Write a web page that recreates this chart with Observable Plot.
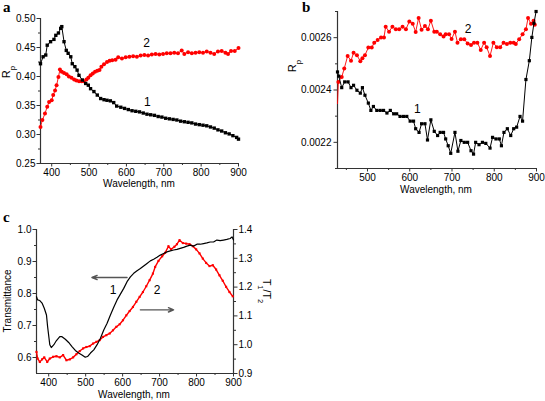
<!DOCTYPE html>
<html><head><meta charset="utf-8">
<script src="https://cdn.jsdelivr.net/npm/d3@7"></script>
<script src="https://cdn.jsdelivr.net/npm/@observablehq/plot@0.6"></script>
<style>
html,body{margin:0;padding:0;background:#fff;}
#fig{position:relative;width:545px;height:401px;background:#fff;overflow:hidden;}
#fig svg{position:absolute;}
</style></head>
<body><div id="fig"></div>
<script>
// ---------- Panel a: R_p vs wavelength ----------
const aWl1 = [370,377,384,388,397,406,411,418,424,427,433,439,444,451,455,462,468,473,482,491,498,504,513,522,531,540,548,557,566,574,585,595,605,615,625,635,645,655,665,675,685,695,705,715,725,735,745,755,765,775,785,795,805,815,825,835,845,855,865,875,885,895,900];
const aRp1 = [0.422,0.434,0.437,0.454,0.460,0.464,0.471,0.475,0.483,0.486,0.460,0.445,0.440,0.434,0.422,0.417,0.411,0.402,0.394,0.388,0.385,0.379,0.374,0.368,0.362,0.360,0.359,0.358,0.355,0.349,0.347,0.345,0.343,0.341,0.340,0.339,0.337,0.335,0.334,0.333,0.331,0.330,0.328,0.327,0.326,0.325,0.323,0.322,0.321,0.320,0.318,0.317,0.316,0.315,0.313,0.311,0.308,0.306,0.303,0.301,0.298,0.295,0.292];
const aWl2 = [370,375,382,388,393,400,404,409,413,418,422,427,433,440,446,453,460,466,473,480,486,493,498,504,510,516,522,528,533,540,548,555,562,571,578,588,598,608,618,628,638,648,658,668,678,688,698,708,718,728,738,748,755,765,775,785,795,805,815,825,835,845,855,865,872,880,890,900];
const aRp2 = [0.313,0.325,0.336,0.348,0.356,0.359,0.368,0.376,0.385,0.399,0.412,0.408,0.406,0.404,0.400,0.398,0.395,0.393,0.392,0.392,0.392,0.395,0.398,0.402,0.405,0.408,0.410,0.411,0.417,0.421,0.425,0.427,0.428,0.429,0.433,0.431,0.433,0.434,0.435,0.434,0.436,0.437,0.436,0.438,0.439,0.438,0.439,0.440,0.440,0.441,0.440,0.445,0.439,0.442,0.440,0.441,0.442,0.441,0.443,0.441,0.439,0.443,0.444,0.441,0.439,0.444,0.444,0.449];
const aXTicks = [400,500,600,700,800,900];
const aXMinor = [450,550,650,750,850];
const aYTicks = [0.25,0.30,0.35,0.40,0.45,0.50];
const aYMinor = [0.275,0.325,0.375,0.425,0.475];
const aLabelText = ["1","2"];
const aLabelX = [656,654];
const aLabelY = [0.356,0.458];

// ---------- Panel b: R_p (small) vs wavelength ----------
const bWl1 = [429,432,439,446,454,461,467,475,483,488,494,502,508,514,522,530,538,546,554,562,569,577,585,593,601,609,614,622,628,636,642,650,658,666,672,680,685,691,697,707,714,721,729,737,745,751,756,764,772,780,790,796,804,812,817,823,831,839,846,853,861,867,875,883,889,894,899];
const bRp1 = [0.002469,0.002453,0.002409,0.002431,0.002431,0.002409,0.002418,0.002399,0.002388,0.002409,0.00238,0.00235,0.002322,0.002337,0.002322,0.002322,0.002322,0.002312,0.002322,0.002309,0.002309,0.002299,0.002299,0.002299,0.002281,0.002281,0.002252,0.002238,0.002271,0.002271,0.002209,0.002286,0.002242,0.002226,0.002238,0.002238,0.002213,0.002187,0.002158,0.002238,0.002166,0.002207,0.0022,0.0022,0.002168,0.002155,0.0022,0.002191,0.0022,0.002196,0.002178,0.002219,0.002213,0.002213,0.002187,0.002238,0.002252,0.002226,0.002252,0.002258,0.002299,0.002281,0.00244,0.002512,0.002601,0.002655,0.0027];
const bWl2 = [429,431,439,445,453,461,467,475,483,488,494,502,510,516,524,532,539,543,551,559,567,575,583,591,599,607,614,621,628,636,643,650,658,664,672,680,685,693,699,707,713,721,729,737,745,752,760,768,776,782,790,798,806,814,822,830,838,846,851,859,867,875,880,887,893,896];
const bRp2 = [0.002348,0.002431,0.00245,0.002482,0.00253,0.002512,0.002542,0.002533,0.00251,0.002521,0.002533,0.002562,0.002562,0.002581,0.002591,0.002601,0.002601,0.002642,0.002623,0.002642,0.002632,0.002632,0.002642,0.002632,0.002662,0.002653,0.002622,0.002675,0.00263,0.002645,0.002632,0.002665,0.002623,0.002623,0.002613,0.002604,0.002613,0.002613,0.002595,0.002623,0.002581,0.002594,0.002594,0.002578,0.002572,0.002581,0.002581,0.002553,0.002581,0.002563,0.00253,0.002581,0.002563,0.002563,0.002581,0.002576,0.002581,0.002581,0.002576,0.002594,0.002613,0.002632,0.002675,0.002653,0.002665,0.002649];
const bXTicks = [500,600,700,800,900];
const bXMinor = [450,550,650,750,850];
const bYTicks = [0.0022,0.0024,0.0026];
const bYMinor = [0.0021,0.0023,0.0025,0.0027];
const bLabelText = ["1","2"];
const bLabelX = [618,738];
const bLabelY = [0.002325,0.002632];

// ---------- Panel c: Transmittance (left) and T1/T2 (right) ----------
const cWl1 = [367,370,376,382,388,394,397,403,407,414,421,430,436,445,454,463,472,481,490,499,505,513,522,531,540,549,558,567,576,585,594,603,612,621,630,639,648,657,666,675,684,693,702,711,720,729,738,747,756,765,774,783,792,801,810,819,828,837,846,855,864,873,882,891,896,900];
const cTrans = [0.790,0.780,0.778,0.770,0.754,0.733,0.697,0.640,0.631,0.640,0.653,0.665,0.665,0.657,0.647,0.634,0.622,0.614,0.608,0.601,0.603,0.614,0.624,0.640,0.660,0.686,0.707,0.733,0.757,0.780,0.798,0.816,0.837,0.852,0.863,0.871,0.878,0.886,0.894,0.902,0.907,0.913,0.920,0.925,0.930,0.933,0.936,0.938,0.941,0.944,0.948,0.951,0.948,0.954,0.954,0.956,0.958,0.961,0.961,0.967,0.965,0.967,0.969,0.972,0.977,0.967];
const cWl2 = [367,370,376,382,388,396,403,412,421,430,439,448,457,466,475,484,493,502,511,520,529,538,547,556,565,574,583,592,601,610,619,628,637,646,655,664,673,682,688,697,707,715,724,731,740,747,754,763,772,781,790,799,808,817,826,835,844,853,862,871,880,889,898];
const cRatio = [0.975,0.952,0.940,0.949,0.956,0.940,0.952,0.958,0.960,0.956,0.964,0.946,0.949,0.956,0.967,0.978,0.987,0.992,0.995,1.004,1.010,1.016,1.027,1.033,1.039,1.050,1.062,1.071,1.085,1.102,1.117,1.131,1.149,1.166,1.183,1.203,1.224,1.247,1.270,1.291,1.307,1.319,1.342,1.331,1.340,1.349,1.363,1.353,1.351,1.349,1.342,1.331,1.317,1.299,1.284,1.273,1.276,1.261,1.241,1.222,1.201,1.183,1.168];
const cXTicks = [400,500,600,700,800,900];
const cXMinor = [450,550,650,750,850];
const cLeftTicks = [0.6,0.7,0.8,0.9,1.0];
const cLeftMinor = [0.65,0.75,0.85,0.95];
const cRightTicks = [0.9,1.0,1.1,1.2,1.3,1.4];
const cRightMinor = [0.95,1.05,1.15,1.25,1.35];
const cLeftDomain = [0.55,1.0];
const cRightDomain = [0.9,1.4];
const cLabelText = ["1","2"];
const cLabelX = [574,693];
const cLabelY = [0.809,0.809];
const cArrowFrom = [612,648];
const cArrowTo = [517,738];
const cArrowLevel = [0.850,1.121];
const cArrowAxis = ["left","right"];

// ---------- helpers ----------
const FONT = '"Liberation Sans", Arial, Helvetica, sans-serif';
const SERIF = '"Liberation Serif", "Times New Roman", serif';
const fig = document.getElementById("fig");
const zip = (xs, ys) => xs.map((x, i) => ({x, y: ys[i]}));
const labels = (t, xs, ys) => t.map((s, i) => ({t: s, x: xs[i], y: ys[i]}));
const style = {fontFamily: FONT, fontSize: "10px", color: "#000", background: "none", overflow: "visible"};
const AX = "#333";

function minorX(ticks) { return Plot.axisX({ticks, tickSize: 2, fill: "none", tickFormat: () => "", label: null, stroke: AX}); }
function minorY(ticks, anchor = "left") { return Plot.axisY({anchor, ticks, tickSize: 2, fill: "none", tickFormat: () => "", label: null, stroke: AX}); }

function place(svg, left, top) { svg.style.left = left + "px"; svg.style.top = top + "px"; fig.appendChild(svg); return d3.select(svg); }

function addText(sel, {x, y, rotate = 0, anchor = "middle", size = 10, family = FONT, weight = "normal", parts}) {
  const t = sel.append("text")
    .attr("transform", `translate(${x},${y}) rotate(${rotate})`)
    .attr("text-anchor", anchor)
    .attr("font-family", family)
    .attr("font-size", size)
    .attr("font-weight", weight)
    .attr("fill", "#000");
  for (const p of parts) {
    if (typeof p === "string") t.append("tspan").text(p);
    else t.append("tspan").attr("font-size", size * 0.72).attr("baseline-shift", "sub").text(p.sub);
  }
  return t;
}

// ---------- Panel a ----------
const plotA = Plot.plot({
  width: 270, height: 200,
  marginLeft: 40, marginRight: 32, marginTop: 18, marginBottom: 37,
  x: {type: "linear", domain: [370, 900]},
  y: {type: "linear", domain: [0.25, 0.50]},
  style,
  marks: [
    Plot.axisX({ticks: aXTicks, tickSize: 3.5, tickPadding: 1.5, tickFormat: d3.format("d"), label: null, stroke: AX}),
    minorX(aXMinor),
    Plot.axisY({ticks: aYTicks, tickSize: 3.5, tickPadding: 1.5, tickFormat: d3.format(".2f"), label: null, stroke: AX}),
    minorY(aYMinor),
    Plot.ruleX([370], {stroke: AX, strokeWidth: 1.2}),
    Plot.ruleY([0.25], {stroke: AX, strokeWidth: 1.2}),
    Plot.line(zip(aWl2, aRp2), {x: "x", y: "y", stroke: "#f00", strokeWidth: 0.9}),
    Plot.dot(zip(aWl2, aRp2), {x: "x", y: "y", r: 2, fill: "#f00", stroke: "none"}),
    Plot.line(zip(aWl1, aRp1), {x: "x", y: "y", stroke: "#000", strokeWidth: 1}),
    Plot.dot(zip(aWl1, aRp1), {x: "x", y: "y", r: 1.9, symbol: "square", fill: "#000", stroke: "none"}),
    Plot.text(labels(aLabelText, aLabelX, aLabelY), {x: "x", y: "y", text: "t", fontSize: 12, fill: "#000"})
  ]
});
const sa = place(plotA, 0, 0);
addText(sa, {x: 3, y: 12, anchor: "start", size: 15, family: SERIF, weight: "bold", parts: ["a"]});
addText(sa, {x: 10, y: 72, rotate: -90, size: 11, parts: ["R", {sub: "p"}]});
addText(sa, {x: 139, y: 187, size: 10, parts: ["Wavelength, nm"]});

// ---------- Panel b ----------
const plotB = Plot.plot({
  width: 275, height: 200,
  marginLeft: 67, marginRight: 9, marginTop: 11, marginBottom: 32,
  x: {type: "linear", domain: [429, 900]},
  y: {type: "linear", domain: [0.0021, 0.0027]},
  style,
  marks: [
    Plot.axisX({ticks: bXTicks, tickSize: 3.5, tickPadding: 1.5, tickFormat: d3.format("d"), label: null, stroke: AX}),
    minorX(bXMinor),
    Plot.axisY({ticks: bYTicks, tickSize: 3.5, tickPadding: 2.5, tickFormat: d3.format(".4f"), label: null, stroke: AX}),
    minorY(bYMinor),
    Plot.ruleX([429], {stroke: AX, strokeWidth: 1.2}),
    Plot.ruleY([0.0021], {stroke: AX, strokeWidth: 1.2}),
    Plot.line(zip(bWl2, bRp2), {x: "x", y: "y", stroke: "#f00", strokeWidth: 0.9}),
    Plot.dot(zip(bWl2, bRp2).slice(1), {x: "x", y: "y", r: 2, fill: "#f00", stroke: "none"}),
    Plot.line(zip(bWl1, bRp1), {x: "x", y: "y", stroke: "#000", strokeWidth: 1}),
    Plot.dot(zip(bWl1, bRp1), {x: "x", y: "y", r: 1.8, symbol: "square", fill: "#000", stroke: "none"}),
    Plot.text(labels(bLabelText, bLabelX, bLabelY), {x: "x", y: "y", text: "t", fontSize: 12, fill: "#000"})
  ]
});
const sb = place(plotB, 270, 0);
addText(sb, {x: 32, y: 12, anchor: "start", size: 15, family: SERIF, weight: "bold", parts: ["b"]});
addText(sb, {x: 26, y: 66, rotate: -90, size: 11, parts: ["R", {sub: "p"}]});
addText(sb, {x: 166, y: 193, size: 10, parts: ["Wavelength, nm"]});

// ---------- Panel c ----------
const toLeft = r => cLeftDomain[0] + (r - cRightDomain[0]) * (cLeftDomain[1] - cLeftDomain[0]) / (cRightDomain[1] - cRightDomain[0]);
const fromLeft = v => cRightDomain[0] + (v - cLeftDomain[0]) * (cRightDomain[1] - cRightDomain[0]) / (cLeftDomain[1] - cLeftDomain[0]);
const ratioData = cWl2.map((x, i) => ({x, y: toLeft(cRatio[i])}));
const arrows = cArrowFrom.map((x1, i) => {
  const lvl = cArrowAxis[i] === "right" ? toLeft(cArrowLevel[i]) : cArrowLevel[i];
  return {x1, x2: cArrowTo[i], y: lvl};
});
const plotC = Plot.plot({
  width: 280, height: 201,
  marginLeft: 36, marginRight: 47, marginTop: 29, marginBottom: 28,
  x: {type: "linear", domain: [367, 900]},
  y: {type: "linear", domain: cLeftDomain},
  style,
  marks: [
    Plot.axisX({ticks: cXTicks, tickSize: 3.5, tickPadding: 1.5, tickFormat: d3.format("d"), label: null, stroke: AX}),
    minorX(cXMinor),
    Plot.axisY({ticks: cLeftTicks, tickSize: 3.5, tickPadding: 1.5, tickFormat: d3.format(".1f"), label: null, stroke: AX}),
    minorY(cLeftMinor),
    Plot.axisY({anchor: "right", ticks: cRightTicks.map(toLeft), tickSize: 3.5, tickPadding: 1.5, tickFormat: d => d3.format(".1f")(fromLeft(d)), label: null, stroke: AX}),
    minorY(cRightMinor.map(toLeft), "right"),
    Plot.ruleX([367, 900], {stroke: AX, strokeWidth: 1.2}),
    Plot.ruleY([cLeftDomain[0]], {stroke: AX, strokeWidth: 1.2}),
    Plot.arrow(arrows, {x1: "x1", x2: "x2", y1: "y", y2: "y", stroke: "#555", strokeWidth: 1.4, headLength: 6, headAngle: 45}),
    Plot.line(ratioData, {x: "x", y: "y", stroke: "#f00", strokeWidth: 1.4}),
    Plot.dot(ratioData, {x: "x", y: "y", r: 1.2, symbol: "square", fill: "#f00", stroke: "none"}),
    Plot.line(zip(cWl1, cTrans), {x: "x", y: "y", stroke: "#000", strokeWidth: 1.2}),
    Plot.text(labels(cLabelText, cLabelX, cLabelY), {x: "x", y: "y", text: "t", fontSize: 12, fill: "#000"})
  ]
});
const sc = place(plotC, 0, 200);
addText(sc, {x: 3, y: 22, anchor: "start", size: 15, family: SERIF, weight: "bold", parts: ["c"]});
addText(sc, {x: 10.5, y: 101, rotate: -90, size: 10, parts: ["Transmittance"]});
addText(sc, {x: 263, y: 91, rotate: 90, size: 10.5, parts: ["T", {sub: "1"}, "/T", {sub: "2"}]});
addText(sc, {x: 134, y: 198, size: 10, parts: ["Wavelength, nm"]});
</script>
</body></html>
